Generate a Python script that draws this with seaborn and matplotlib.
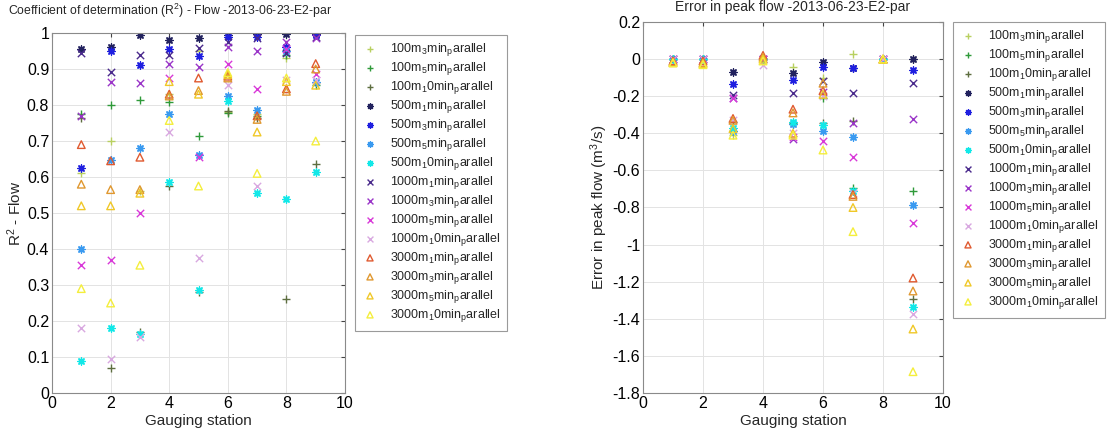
import numpy as np
import pandas as pd
import seaborn as sns
import matplotlib
matplotlib.use("Agg")
import matplotlib.pyplot as plt
from matplotlib.ticker import FormatStrFormatter, MultipleLocator

stations = [1, 2, 3, 4, 5, 6, 7, 8, 9]

series_names = ["100m_3min", "100m_5min", "100m_10min",
                "500m_1min", "500m_3min", "500m_5min", "500m_10min",
                "1000m_1min", "1000m_3min", "1000m_5min", "1000m_10min",
                "3000m_1min", "3000m_3min", "3000m_5min", "3000m_10min"]

legend_labels = ["100m$_3$min$_p$arallel", "100m$_5$min$_p$arallel", "100m$_1$0min$_p$arallel",
                 "500m$_1$min$_p$arallel", "500m$_3$min$_p$arallel", "500m$_5$min$_p$arallel",
                 "500m$_1$0min$_p$arallel",
                 "1000m$_1$min$_p$arallel", "1000m$_3$min$_p$arallel", "1000m$_5$min$_p$arallel",
                 "1000m$_1$0min$_p$arallel",
                 "3000m$_1$min$_p$arallel", "3000m$_3$min$_p$arallel", "3000m$_5$min$_p$arallel",
                 "3000m$_1$0min$_p$arallel"]

colors = ["#b8d060", "#2f9a3a", "#5e6e40",
          "#22225e", "#1f1fe0", "#3a9af0", "#12e8e8",
          "#4a2a8c", "#9a35c8", "#d838d8", "#d8a8e0",
          "#e05a30", "#e09830", "#f0c828", "#f4ee3c"]

markers = ["+", "+", "+", "*", "*", "*", "*", "x", "x", "x", "x", "^", "^", "^", "^"]

# R^2 - flow, one list per series (stations 1..9)
r2_100m_3min = [0.61, 0.70, 0.56, 0.83, 0.95, 0.78, 0.775, 0.93, 0.86]
r2_100m_5min = [0.775, 0.80, 0.815, 0.808, 0.715, 0.778, 0.77, 0.94, 0.855]
r2_100m_10min = [0.765, 0.07, 0.17, 0.575, 0.28, 0.782, 0.765, 0.26, 0.635]
r2_500m_1min = [0.955, 0.96, 0.995, 0.98, 0.985, 0.995, 0.997, 0.998, 0.998]
r2_500m_3min = [0.625, 0.95, 0.91, 0.955, 0.937, 0.99, 0.99, 0.96, 0.995]
r2_500m_5min = [0.40, 0.648, 0.68, 0.775, 0.66, 0.825, 0.785, 0.95, 0.865]
r2_500m_10min = [0.09, 0.18, 0.165, 0.585, 0.285, 0.81, 0.555, 0.54, 0.615]
r2_1000m_1min = [0.945, 0.893, 0.94, 0.94, 0.957, 0.975, 0.985, 0.945, 0.99]
r2_1000m_3min = [0.77, 0.865, 0.862, 0.915, 0.905, 0.96, 0.95, 0.975, 0.985]
r2_1000m_5min = [0.355, 0.37, 0.50, 0.875, 0.655, 0.915, 0.845, 0.955, 0.885]
r2_1000m_10min = [0.18, 0.095, 0.155, 0.725, 0.375, 0.855, 0.575, 0.87, 0.87]
r2_3000m_1min = [0.69, 0.645, 0.655, 0.83, 0.875, 0.88, 0.77, 0.845, 0.915]
r2_3000m_3min = [0.58, 0.565, 0.565, 0.825, 0.84, 0.875, 0.76, 0.838, 0.90]
r2_3000m_5min = [0.52, 0.52, 0.555, 0.865, 0.83, 0.885, 0.725, 0.865, 0.855]
r2_3000m_10min = [0.29, 0.25, 0.355, 0.757, 0.575, 0.89, 0.61, 0.875, 0.70]

# error in peak flow (m3/s)
pk_100m_3min = [0.0, 0.0, -0.41, 0.0, -0.04, -0.10, 0.025, 0.0, 0.0]
pk_100m_5min = [0.0, 0.0, -0.39, 0.0, -0.345, -0.21, -0.695, 0.0, -0.71]
pk_100m_10min = [0.0, 0.0, -0.34, 0.0, -0.35, -0.345, -0.335, 0.0, -1.295]
pk_500m_1min = [0.0, 0.0, -0.07, 0.0, -0.077, -0.015, -0.05, 0.0, 0.0]
pk_500m_3min = [0.0, 0.0, -0.135, 0.0, -0.11, -0.045, -0.05, 0.0, -0.06]
pk_500m_5min = [0.0, 0.0, -0.385, 0.0, -0.35, -0.39, -0.42, 0.0, -0.785]
pk_500m_10min = [0.0, 0.0, -0.37, 0.0, -0.34, -0.355, -0.71, 0.0, -1.335]
pk_1000m_1min = [0.0, 0.0, -0.195, 0.0, -0.185, -0.12, -0.185, 0.0, -0.13]
pk_1000m_3min = [0.0, 0.0, -0.21, 0.0, -0.43, -0.18, -0.345, 0.0, -0.325]
pk_1000m_5min = [0.0, 0.0, -0.21, 0.0, -0.42, -0.44, -0.53, 0.0, -0.885]
pk_1000m_10min = [0.0, 0.0, -0.33, -0.03, -0.40, -0.20, -0.72, 0.0, -1.375]
pk_3000m_1min = [-0.01, -0.01, -0.32, 0.02, -0.27, -0.17, -0.73, 0.0, -1.18]
pk_3000m_3min = [-0.015, -0.02, -0.33, 0.01, -0.29, -0.13, -0.74, 0.0, -1.25]
pk_3000m_5min = [-0.02, -0.025, -0.375, 0.0, -0.40, -0.19, -0.80, 0.0, -1.455]
pk_3000m_10min = [-0.02, -0.03, -0.41, -0.01, -0.41, -0.49, -0.93, 0.0, -1.685]

r2_values = [r2_100m_3min, r2_100m_5min, r2_100m_10min,
             r2_500m_1min, r2_500m_3min, r2_500m_5min, r2_500m_10min,
             r2_1000m_1min, r2_1000m_3min, r2_1000m_5min, r2_1000m_10min,
             r2_3000m_1min, r2_3000m_3min, r2_3000m_5min, r2_3000m_10min]
pk_values = [pk_100m_3min, pk_100m_5min, pk_100m_10min,
             pk_500m_1min, pk_500m_3min, pk_500m_5min, pk_500m_10min,
             pk_1000m_1min, pk_1000m_3min, pk_1000m_5min, pk_1000m_10min,
             pk_3000m_1min, pk_3000m_3min, pk_3000m_5min, pk_3000m_10min]

sns.set_style("whitegrid")
plt.rcParams['font.family'] = ['Liberation Sans', 'DejaVu Sans']
plt.rcParams['mathtext.fontset'] = 'custom'
plt.rcParams['mathtext.rm'] = 'Liberation Sans'
plt.rcParams['mathtext.it'] = 'Liberation Sans'
plt.rcParams['mathtext.default'] = 'regular'

fig = plt.figure(figsize=(11.1, 4.37), dpi=100)
ax1 = fig.add_axes([52 / 1110, 44 / 437, 293 / 1110, 360 / 437])
ax2 = fig.add_axes([643 / 1110, 44 / 437, 300 / 1110, 371 / 437])


def draw(ax, values):
    for name, vals, c, m in zip(series_names, values, colors, markers):
        df = pd.DataFrame({"station": stations, "value": vals})
        if m == "^":
            sns.scatterplot(data=df, x="station", y="value", ax=ax, marker="^", s=30,
                            facecolors="none", edgecolors=c, linewidths=1.0, label=name)
        elif m == "*":
            sns.scatterplot(data=df, x="station", y="value", ax=ax, marker=(8, 2, 0), s=26,
                            color=c, linewidths=1.0, label=name)
        else:
            sns.scatterplot(data=df, x="station", y="value", ax=ax, marker=m, s=28,
                            color=c, linewidths=1.0, label=name)


draw(ax1, r2_values)
draw(ax2, pk_values)

for ax in (ax1, ax2):
    ax.set_xlim(0, 10)
    ax.xaxis.set_major_locator(MultipleLocator(2))
    ax.grid(True, color="#e3e3e3", linewidth=0.7)
    ax.tick_params(direction="in", top=True, right=True, length=3, labelsize=11.5,
                   colors="#444444", labelcolor="black", pad=2)
    for sp in ax.spines.values():
        sp.set_color("#8a8a8a")
        sp.set_linewidth(0.8)
    ax.set_xlabel("Gauging station", fontsize=11, labelpad=2)
    ax.yaxis.set_major_formatter(FormatStrFormatter("%g"))

ax1.set_ylim(0, 1)
ax1.yaxis.set_major_locator(MultipleLocator(0.1))
ax1.set_ylabel("R$^2$ - Flow", fontsize=11, labelpad=2)

ax2.set_ylim(-1.8, 0.2)
ax2.yaxis.set_major_locator(MultipleLocator(0.2))
ax2.set_ylabel("Error in peak flow (m$^3$/s)", fontsize=11, labelpad=2)

fig.text(8 / 1110, 1 - 11 / 437, "Coefficient of determination (R$^2$) - Flow -2013-06-23-E2-par",
         fontsize=8.8, ha="left", va="center")
fig.text(793 / 1110, 1.0, "Error in peak flow -2013-06-23-E2-par",
         fontsize=10, ha="center", va="top")

for ax, x0, y0 in ((ax1, 355, 35), (ax2, 953, 22)):
    h, l = ax.get_legend_handles_labels()
    if ax.get_legend():
        ax.get_legend().remove()
    leg = fig.legend(h, legend_labels, loc="upper left",
                     bbox_to_anchor=(x0 / 1110, 1 - y0 / 437), bbox_transform=fig.transFigure,
                     borderaxespad=0, fontsize=9, frameon=True, fancybox=False, framealpha=1,
                     edgecolor="#9a9a9a", labelspacing=0.16, handletextpad=0.9,
                     handlelength=1.4, borderpad=0.5, markerscale=0.8)
    leg.get_frame().set_linewidth(0.8)

fig.savefig("out.png", dpi=100)
